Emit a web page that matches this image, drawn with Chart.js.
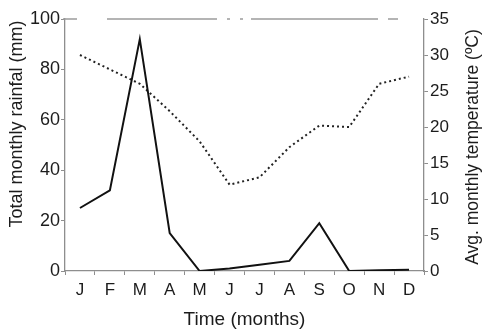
<!DOCTYPE html>
<html>
<head>
<meta charset="utf-8">
<script src="https://cdn.jsdelivr.net/npm/chart.js@4.4.0/dist/chart.umd.min.js"></script>
<style>
  html, body { margin: 0; padding: 0; background: #fff; }
  #wrap { position: relative; width: 483px; height: 331px; }
</style>
</head>
<body>
<div id="wrap"><canvas id="chart"></canvas></div>
<script>
// month labels along the bottom
const months = ['J', 'F', 'M', 'A', 'M', 'J', 'J', 'A', 'S', 'O', 'N', 'D'];
// total monthly rainfall (mm), left axis
const rainfall = [25, 32, 92, 15, 0, 1, 2.5, 4, 19, 0, 0.3, 0.5];
// average monthly temperature (°C), right axis
const temperature = [30, 28, 26, 22.2, 18, 12, 13, 17.2, 20.2, 20, 26, 27];

const leftTitle = 'Total monthly rainfal (mm)';
const rightTitle = 'Avg. monthly temperature (ºC)';

const axisGray = '#8e8e8e';
const textDark = '#1c1c1c';
const family = '"Liberation Sans", Arial, sans-serif';

// dashed top frame + the two rotated axis titles (both read bottom-to-top)
const frameAndTitles = {
  id: 'frameAndTitles',
  afterDraw(chart) {
    const { ctx, chartArea } = chart;
    ctx.save();
    ctx.strokeStyle = '#9c9c9c';
    ctx.lineWidth = 1.3;
    ctx.setLineDash([14, 30, 110, 10, 3, 10, 3, 8, 127, 10, 10, 30]);
    ctx.beginPath();
    ctx.moveTo(chartArea.left - 2, chartArea.top);
    ctx.lineTo(chartArea.right, chartArea.top);
    ctx.stroke();
    ctx.setLineDash([]);

    ctx.fillStyle = textDark;
    ctx.textAlign = 'center';
    ctx.textBaseline = 'middle';

    ctx.font = '18px ' + family;
    ctx.translate(17, chartArea.top + 105);
    ctx.rotate(-Math.PI / 2);
    ctx.fillText(leftTitle, 0, 0);
    ctx.setTransform(1, 0, 0, 1, 0, 0);

    ctx.font = '17.5px ' + family;
    ctx.translate(chart.width - 10, (chartArea.top + chartArea.bottom) / 2 + 2);
    ctx.rotate(-Math.PI / 2);
    ctx.fillText(rightTitle, 0, 0);
    ctx.restore();
  }
};

new Chart(document.getElementById('chart'), {
  type: 'line',
  data: {
    labels: months,
    datasets: [
      {
        label: 'Rainfall',
        data: rainfall,
        yAxisID: 'y',
        borderColor: '#111',
        borderWidth: 2,
        pointRadius: 0,
        tension: 0
      },
      {
        label: 'Temperature',
        data: temperature,
        yAxisID: 'y2',
        borderColor: '#222',
        borderWidth: 2,
        borderDash: [2, 3],
        pointRadius: 0,
        tension: 0
      }
    ]
  },
  options: {
    responsive: true,
    maintainAspectRatio: false,
    animation: false,
    layout: { padding: { top: 19, right: 0, left: 0, bottom: 0 } },
    plugins: {
      legend: { display: false },
      tooltip: { enabled: false }
    },
    scales: {
      x: {
        offset: true,
        afterFit: (s) => { s.height = 60; },
        grid: { drawOnChartArea: false, tickLength: 4, color: axisGray, offset: true },
        border: { color: axisGray, width: 1.3, dash: [6, 30, 160, 8, 400, 0] },
        ticks: { color: textDark, font: { family: family, size: 17 }, maxRotation: 0, padding: 5 },
        title: { display: true, text: 'Time (months)', color: textDark, font: { family: family, size: 19 }, padding: { top: 0, bottom: 0 } }
      },
      y: {
        position: 'left',
        min: 0,
        max: 100,
        afterFit: (s) => { s.width = 65; },
        ticks: { stepSize: 20, color: textDark, font: { family: family, size: 18 }, padding: 1 },
        grid: { drawOnChartArea: false, tickLength: 4, color: axisGray },
        border: { color: axisGray, width: 1.3 }
      },
      y2: {
        position: 'right',
        min: 0,
        max: 35,
        afterFit: (s) => { s.width = 59; },
        ticks: { stepSize: 5, color: textDark, font: { family: family, size: 17 }, padding: 2 },
        grid: { drawOnChartArea: false, tickLength: 4, color: axisGray },
        border: { color: axisGray, width: 1.3 }
      }
    }
  },
  plugins: [frameAndTitles]
});
</script>
</body>
</html>
